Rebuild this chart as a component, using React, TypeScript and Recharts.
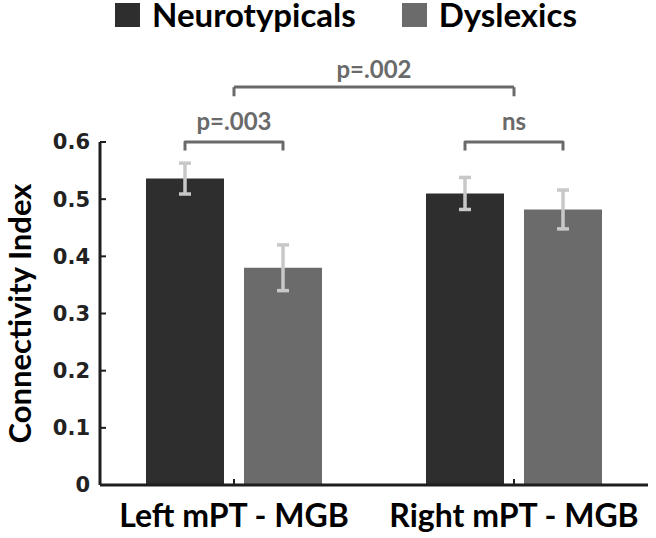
import {
    BarChart,
    Bar,
    XAxis,
    YAxis,
    ErrorBar,
    LabelList,
    ReferenceLine,
    Legend,
} from 'recharts';

const categories = ['Left mPT - MGB', 'Right mPT - MGB'];
const seriesNames = ['Neurotypicals', 'Dyslexics'];
const neurotypicals = [0.536, 0.51];
const neurotypicalsErr = [0.027, 0.028];
const dyslexics = [0.38, 0.482];
const dyslexicsErr = [0.04, 0.034];
const yTicks = [0, 0.1, 0.2, 0.3, 0.4, 0.5, 0.6];

// within-hemisphere comparisons (one per category) and the between-hemisphere one
const pairLabels = ['p=.003', 'ns'];
const pairLevel = 0.6;
const pairLeg = 0.585;
const hemiLabel = 'p=.002';
const hemiLevel = 0.696;
const hemiLeg = 0.68;

const DARK = '#2e2e2e';
const GRAY = '#6b6b6b';
const ERR = '#c8c8c8';
const NOTE = '#6a6a6a';
const AXIS = '#1e1e1e';
const LABEL_FONT = 'Lato, "Open Sans", sans-serif';
const TICK_FONT = '"DejaVu Sans", sans-serif';
const BAR_GAP = 20;

const chartData = categories.map((name, i) => ({
    name,
    neurotypicals: neurotypicals[i],
    ntErr: neurotypicalsErr[i],
    dyslexics: dyslexics[i],
    dyErr: dyslexicsErr[i],
}));

// eslint-disable-next-line @typescript-eslint/no-explicit-any
const PairBracket = (props: any) => {
    const { x, y, width, height, value, index } = props;
    const base = Number(y) + Number(height);
    const unit = Number(height) / Number(value);
    const top = base - pairLevel * unit;
    const leg = base - pairLeg * unit;
    const x1 = Number(x) + Number(width) / 2;
    const x2 = Number(x) + Number(width) * 1.5 + BAR_GAP;
    return (
        <g>
            <path
                d={`M${x1},${leg}V${top}H${x2}V${leg}`}
                fill="none"
                stroke={NOTE}
                strokeWidth={3}
                strokeLinejoin="round"
            />
            <text
                x={(x1 + x2) / 2}
                y={top - 12}
                textAnchor="middle"
                fill={NOTE}
                fontFamily={LABEL_FONT}
                fontWeight={700}
                fontSize={24}
            >
                {pairLabels[index]}
            </text>
        </g>
    );
};

// eslint-disable-next-line @typescript-eslint/no-explicit-any
const LegendContent = (props: any) => {
    // eslint-disable-next-line @typescript-eslint/no-explicit-any
    const items = [...(props.payload || [])].sort((a: any, b: any) => seriesNames.indexOf(a.value) - seriesNames.indexOf(b.value));
    return (
        <div style={{ display: 'flex', alignItems: 'center', fontFamily: LABEL_FONT, fontWeight: 700, fontSize: 33, color: '#000', lineHeight: '27px', whiteSpace: 'nowrap', paddingTop: 1 }}>
            {/* eslint-disable-next-line @typescript-eslint/no-explicit-any */}
            {items.map((entry: any, i: number) => (
                <div key={`leg-${i}`} style={{ display: 'flex', alignItems: 'center', marginRight: 46 }}>
                    <span style={{ display: 'inline-block', width: 25, height: 24, background: entry.color, marginRight: 12 }} />
                    <span>{entry.value}</span>
                </div>
            ))}
        </div>
    );
};

// eslint-disable-next-line @typescript-eslint/no-explicit-any
const YLabel = (props: any) => {
    const { viewBox } = props;
    const cx = 31;
    const cy = viewBox.y + viewBox.height / 2;
    return (
        <text
            x={cx}
            y={cy}
            transform={`rotate(-90, ${cx}, ${cy})`}
            textAnchor="middle"
            fill="#000"
            fontFamily={LABEL_FONT}
            fontWeight={700}
            fontSize={31}
        >
            Connectivity Index
        </text>
    );
};

export default function App() {
    return (
        <div style={{ position: 'absolute', left: 0, top: 0, width: 656, height: 538, background: '#fff' }}>
            <BarChart
                width={656}
                height={538}
                data={chartData}
                margin={{ top: 142, right: 8, bottom: 0, left: 0 }}
                barGap={BAR_GAP}
                barSize={78}
            >
                <Legend
                    layout="vertical"
                    verticalAlign="middle"
                    align="center"
                    content={<LegendContent />}
                    wrapperStyle={{ top: 0, left: 115, width: 520, height: 30 }}
                />
                <XAxis
                    dataKey="name"
                    height={53}
                    padding={{ left: -6, right: -6 }}
                    axisLine={{ stroke: AXIS, strokeWidth: 3 }}
                    tickLine={{ stroke: AXIS, strokeWidth: 2 }}
                    tickSize={-6}
                    tickMargin={25}
                    tick={{ fill: '#000', fontFamily: LABEL_FONT, fontWeight: 700, fontSize: 32 }}
                    interval={0}
                />
                <YAxis
                    width={100}
                    domain={[0, 0.6]}
                    ticks={yTicks}
                    axisLine={{ stroke: AXIS, strokeWidth: 3 }}
                    tickLine={{ stroke: AXIS, strokeWidth: 2 }}
                    tickSize={-6}
                    tickMargin={16}
                    tick={{ fill: '#222', fontFamily: TICK_FONT, fontWeight: 700, fontSize: 21 }}
                    label={<YLabel />}
                />
                <Bar dataKey="neurotypicals" name="Neurotypicals" fill={DARK} isAnimationActive={false}>
                    <ErrorBar dataKey="ntErr" width={6} strokeWidth={3.5} stroke={ERR} isAnimationActive={false} />
                    <LabelList dataKey="neurotypicals" content={<PairBracket />} />
                </Bar>
                <Bar dataKey="dyslexics" name="Dyslexics" fill={GRAY} isAnimationActive={false}>
                    <ErrorBar dataKey="dyErr" width={6} strokeWidth={3.5} stroke={ERR} isAnimationActive={false} />
                </Bar>
                <ReferenceLine
                    segment={[{ x: categories[0], y: hemiLevel }, { x: categories[1], y: hemiLevel }]}
                    ifOverflow="visible"
                    stroke={NOTE}
                    strokeWidth={3}
                    label={{ value: hemiLabel, position: 'top', offset: 9, fill: NOTE, fontFamily: LABEL_FONT, fontWeight: 700, fontSize: 24 }}
                />
                <ReferenceLine
                    segment={[{ x: categories[0], y: hemiLevel }, { x: categories[0], y: hemiLeg }]}
                    ifOverflow="visible"
                    stroke={NOTE}
                    strokeWidth={3}
                />
                <ReferenceLine
                    segment={[{ x: categories[1], y: hemiLevel }, { x: categories[1], y: hemiLeg }]}
                    ifOverflow="visible"
                    stroke={NOTE}
                    strokeWidth={3}
                />
            </BarChart>
        </div>
    );
}
